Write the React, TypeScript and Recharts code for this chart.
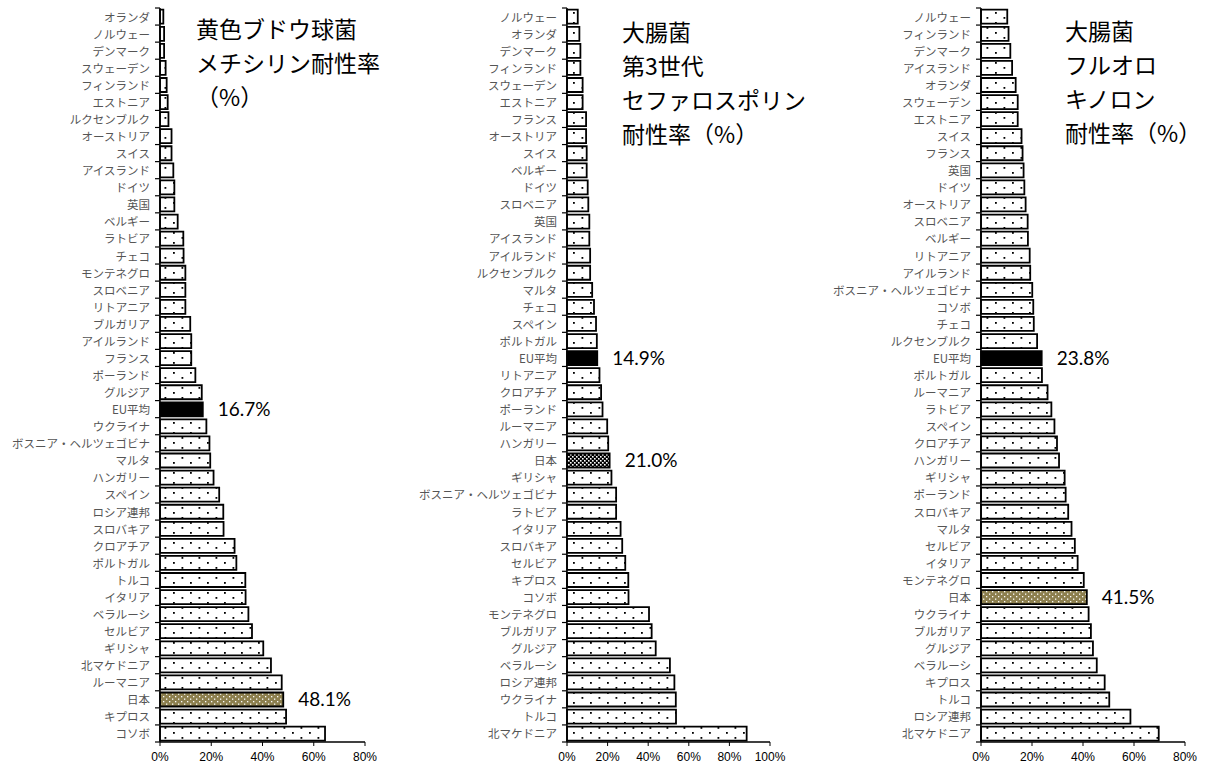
import { Bar, BarChart, Cell, LabelList, XAxis, YAxis } from "recharts";

// 黄色ブドウ球菌 メチシリン耐性率
const mrsaCountries = [
  "オランダ", "ノルウェー", "デンマーク", "スウェーデン", "フィンランド", "エストニア", "ルクセンブルク",
  "オーストリア", "スイス", "アイスランド", "ドイツ", "英国", "ベルギー", "ラトビア", "チェコ", "モンテネグロ",
  "スロベニア", "リトアニア", "ブルガリア", "アイルランド", "フランス", "ポーランド", "グルジア", "EU平均",
  "ウクライナ", "ボスニア・ヘルツェゴビナ", "マルタ", "ハンガリー", "スペイン", "ロシア連邦", "スロバキア",
  "クロアチア", "ポルトガル", "トルコ", "イタリア", "ベラルーシ", "セルビア", "ギリシャ", "北マケドニア",
  "ルーマニア", "日本", "キプロス", "コソボ",
];
const mrsaRates = [
  1.3, 1.6, 1.6, 2.2, 2.6, 3.0, 3.3, 4.5, 4.5, 5.2, 5.6, 5.6, 6.9, 9.1, 9.2, 9.9, 9.9, 9.9, 11.8, 12.2, 12.2,
  13.8, 16.3, 16.7, 18.1, 19.3, 19.6, 20.9, 23.1, 24.7, 24.8, 29.1, 29.8, 33.3, 33.4, 34.5, 35.9, 40.3, 43.3,
  47.5, 48.1, 49.2, 64.4,
];

// 大腸菌 第3世代セファロスポリン耐性率
const cephCountries = [
  "ノルウェー", "オランダ", "デンマーク", "フィンランド", "スウェーデン", "エストニア", "フランス", "オーストリア",
  "スイス", "ベルギー", "ドイツ", "スロベニア", "英国", "アイスランド", "アイルランド", "ルクセンブルク", "マルタ",
  "チェコ", "スペイン", "ポルトガル", "EU平均", "リトアニア", "クロアチア", "ポーランド", "ルーマニア", "ハンガリー",
  "日本", "ギリシャ", "ボスニア・ヘルツェゴビナ", "ラトビア", "イタリア", "スロバキア", "セルビア", "キプロス",
  "コソボ", "モンテネグロ", "ブルガリア", "グルジア", "ベラルーシ", "ロシア連邦", "ウクライナ", "トルコ", "北マケドニア",
];
const cephRates = [
  5.3, 6.1, 6.6, 6.6, 7.7, 7.7, 9.4, 9.4, 9.7, 9.7, 10.2, 10.5, 11.0, 11.0, 11.4, 11.4, 12.4, 13.3, 14.3, 14.7,
  14.9, 16.0, 16.8, 17.5, 19.8, 20.3, 21.0, 21.9, 24.2, 24.2, 26.4, 27.2, 28.7, 30.2, 30.3, 40.4, 41.7, 43.7,
  50.7, 52.9, 53.6, 53.7, 88.5,
];

// 大腸菌 フルオロキノロン耐性率
const fqCountries = [
  "ノルウェー", "フィンランド", "デンマーク", "アイスランド", "オランダ", "スウェーデン", "エストニア", "スイス",
  "フランス", "英国", "ドイツ", "オーストリア", "スロベニア", "ベルギー", "リトアニア", "アイルランド",
  "ボスニア・ヘルツェゴビナ", "コソボ", "チェコ", "ルクセンブルク", "EU平均", "ポルトガル", "ルーマニア", "ラトビア",
  "スペイン", "クロアチア", "ハンガリー", "ギリシャ", "ポーランド", "スロバキア", "マルタ", "セルビア", "イタリア",
  "モンテネグロ", "日本", "ウクライナ", "ブルガリア", "グルジア", "ベラルーシ", "キプロス", "トルコ", "ロシア連邦",
  "北マケドニア",
];
const fqRates = [
  10.3, 10.8, 11.5, 12.2, 13.6, 14.4, 14.4, 15.9, 16.3, 16.7, 17.0, 17.5, 18.3, 18.4, 19.1, 19.3, 20.1, 20.5,
  20.7, 22.0, 23.8, 23.9, 26.1, 27.6, 28.8, 29.8, 30.6, 32.8, 33.2, 34.2, 35.5, 36.8, 37.9, 40.3, 41.5, 42.2,
  43.1, 43.9, 45.4, 48.5, 50.3, 58.6, 69.7,
];

const mrsaTitle = ["黄色ブドウ球菌", "メチシリン耐性率", "（%）"];
const cephTitle = ["大腸菌", "第3世代", "セファロスポリン", "耐性率（%）"];
const fqTitle = ["大腸菌", "フルオロ", "キノロン", "耐性率（%）"];

const ticks80 = [0, 20, 40, 60, 80];
const ticks100 = [0, 20, 40, 60, 80, 100];

const CHART_H = 769;
const TOP = 8;
const X_AXIS_H = 27;
const jpFont = '"Noto Sans CJK JP", sans-serif';

function Panel(props: {
  id: string;
  left: number;
  yWidth: number;
  right: number;
  countries: string[];
  rates: number[];
  max: number;
  ticks: number[];
  checkerJapan?: boolean;
  title: string[];
  titleLeft: number;
  titleTop: number;
}) {
  const { id, left, yWidth, right, countries, rates, max, ticks, checkerJapan, title, titleLeft, titleTop } = props;
  const data = countries.map((name, i) => ({
    name,
    rate: rates[i],
    label: name === "EU平均" || name === "日本" ? `${rates[i].toFixed(1)}%` : "",
  }));
  const band = (CHART_H - TOP - X_AXIS_H) / countries.length;

  const renderTick = (p: any) => {
    const axisX = p.x + 10;
    const isLast = p.index === countries.length - 1;
    return (
      <g>
        <line x1={axisX - 5} x2={axisX} y1={p.y - band / 2} y2={p.y - band / 2} stroke="#000" strokeWidth={1.2} />
        {isLast && (
          <line x1={axisX - 5} x2={axisX} y1={p.y + band / 2} y2={p.y + band / 2} stroke="#000" strokeWidth={1.2} />
        )}
        <text x={p.x} y={p.y} textAnchor="end" dominantBaseline="central" fontSize={11.5} fill="#555" fontFamily={jpFont}>
          {p.payload.value}
        </text>
      </g>
    );
  };

  return (
    <div style={{ position: "absolute", left, top: 0, width: 400, height: CHART_H }}>
      <BarChart
        width={400}
        height={CHART_H}
        layout="vertical"
        data={data}
        margin={{ top: TOP, right, bottom: 0, left: 0 }}
        barCategoryGap="10%"
      >
        <defs>
          <pattern id={`${id}-dots`} patternUnits="userSpaceOnUse" width={17} height={10}>
            <rect width={17} height={10} fill="#fff" />
            <rect x={3} y={2} width={1.8} height={1.8} fill="#000" />
            <rect x={11.5} y={7} width={1.8} height={1.8} fill="#000" />
          </pattern>
          {checkerJapan ? (
            <pattern id={`${id}-jp`} patternUnits="userSpaceOnUse" width={4} height={4}>
              <rect width={4} height={4} fill="#000" />
              <rect x={0} y={0} width={1.6} height={1.6} fill="#fff" />
              <rect x={2} y={2} width={1.6} height={1.6} fill="#fff" />
            </pattern>
          ) : (
            <pattern id={`${id}-jp`} patternUnits="userSpaceOnUse" width={6} height={5}>
              <rect width={6} height={5} fill="#8c7f4e" />
              <rect x={1} y={1} width={1.3} height={1.3} fill="#fff" />
              <rect x={4} y={3.5} width={1.3} height={1.3} fill="#fff" />
            </pattern>
          )}
        </defs>
        <XAxis
          type="number"
          domain={[0, max]}
          ticks={ticks}
          tickFormatter={(v: number) => `${v}%`}
          height={X_AXIS_H}
          axisLine={{ stroke: "#000", strokeWidth: 1.5 }}
          tickLine={{ stroke: "#000" }}
          tickSize={4}
          tickMargin={6}
          tick={{ fontSize: 12, fill: "#000", fontFamily: '"Liberation Sans", Arial, sans-serif' }}
        />
        <YAxis
          type="category"
          dataKey="name"
          width={yWidth}
          axisLine={{ stroke: "#000", strokeWidth: 1.5 }}
          tickLine={false}
          tickSize={0}
          tickMargin={10}
          interval={0}
          tick={renderTick}
        />
        <Bar dataKey="rate" stroke="#000" strokeWidth={1.8} isAnimationActive={false}>
          {data.map((d) => (
            <Cell
              key={d.name}
              fill={d.name === "EU平均" ? "#000" : d.name === "日本" ? `url(#${id}-jp)` : `url(#${id}-dots)`}
            />
          ))}
          <LabelList
            dataKey="label"
            position="right"
            offset={15}
            style={{ fontSize: 19, fill: "#000", fontFamily: "Lato, sans-serif" }}
          />
        </Bar>
      </BarChart>
      <div
        style={{
          position: "absolute",
          left: titleLeft,
          top: titleTop,
          fontFamily: jpFont,
          fontSize: 23,
          lineHeight: "34px",
          color: "#000",
          whiteSpace: "nowrap",
        }}
      >
        {title.map((t) => (
          <div key={t}>{t}</div>
        ))}
      </div>
    </div>
  );
}

export default function App() {
  return (
    <div style={{ position: "absolute", left: 0, top: 0, width: 1205, height: CHART_H, background: "#fff", overflow: "hidden" }}>
      <Panel
        id="mrsa"
        left={0}
        yWidth={160}
        right={35}
        countries={mrsaCountries}
        rates={mrsaRates}
        max={80}
        ticks={ticks80}
        title={mrsaTitle}
        titleLeft={196}
        titleTop={11}
      />
      <Panel
        id="ceph"
        left={400}
        yWidth={167}
        right={30}
        countries={cephCountries}
        rates={cephRates}
        max={100}
        ticks={ticks100}
        checkerJapan
        title={cephTitle}
        titleLeft={222}
        titleTop={14}
      />
      <Panel
        id="fq"
        left={805}
        yWidth={176}
        right={20}
        countries={fqCountries}
        rates={fqRates}
        max={80}
        ticks={ticks80}
        title={fqTitle}
        titleLeft={260}
        titleTop={13}
      />
    </div>
  );
}
